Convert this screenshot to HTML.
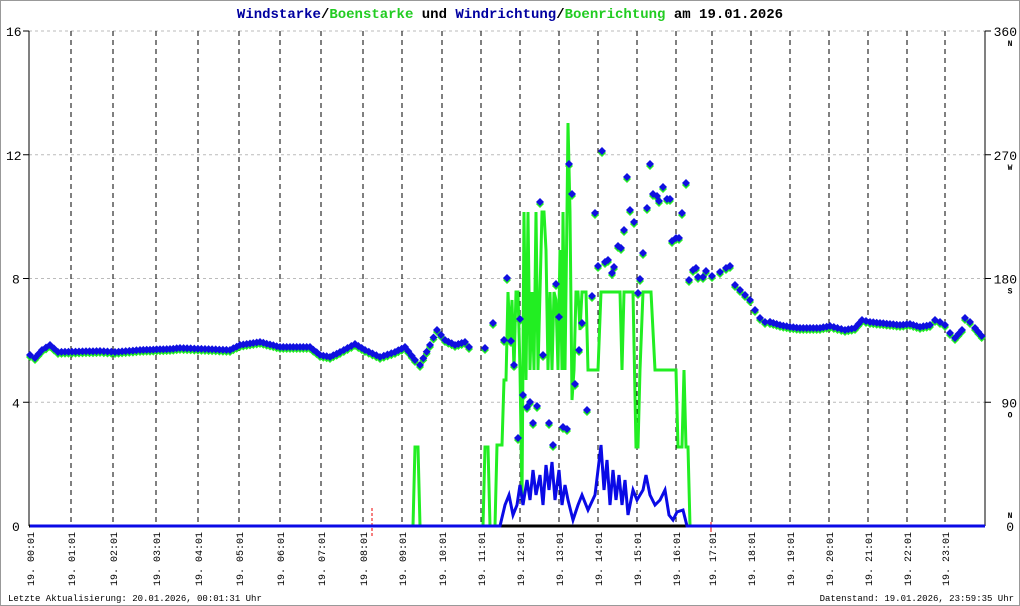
<!DOCTYPE html>
<html><head><meta charset="utf-8"><style>
html,body{margin:0;padding:0;background:#fff}
svg{display:block}
text{font-family:"Liberation Mono","DejaVu Sans Mono",monospace}
</style></head><body>
<svg id="s" width="1020" height="606" viewBox="0 0 1020 606" xmlns="http://www.w3.org/2000/svg">
<rect x="0.5" y="0.5" width="1019" height="605" fill="#fff" stroke="#999"/>
<text x="510" y="18" text-anchor="middle" font-size="14" font-weight="bold"><tspan fill="#0000a0">Windstarke</tspan><tspan fill="#000">/</tspan><tspan fill="#22cc22">Boenstarke</tspan><tspan fill="#000"> und </tspan><tspan fill="#0000a0">Windrichtung</tspan><tspan fill="#000">/</tspan><tspan fill="#22cc22">Boenrichtung</tspan><tspan fill="#000"> am 19.01.2026</tspan></text>
<g id="g"></g>
<text x="8" y="601" font-size="9">Letzte Aktualisierung: 20.01.2026, 00:01:31 Uhr</text>
<text x="1014" y="601" font-size="9" text-anchor="end">Datenstand: 19.01.2026, 23:59:35 Uhr</text>
</svg>
<script>
var g=document.getElementById('g'),h='';
var L=29,R=985,T=31,B=526;
function Y(v){return B-(B-T)*v/16;}
[4,8,12,16].forEach(function(v){var y=Y(v);h+='<line x1="'+L+'" x2="'+R+'" y1="'+y+'" y2="'+y+'" stroke="#bbb" stroke-dasharray="3,3"/>';
h+='<line x1="'+(L-6)+'" x2="'+L+'" y1="'+y+'" y2="'+y+'" stroke="#000"/><line x1="'+R+'" x2="'+(R+6)+'" y1="'+y+'" y2="'+y+'" stroke="#000"/>';});
var xs=[30,71,113,156,198,239,280,321,363,402,442,481,520,559,598,637,676,712,751,790,829,868,907,945];
xs.forEach(function(x,i){if(i>0)h+='<line x1="'+x+'" x2="'+x+'" y1="'+T+'" y2="'+B+'" stroke="#000" stroke-dasharray="5,4"/>';
var hh=(i<10?'0':'')+i;h+='<text transform="translate('+(x+4)+',586) rotate(-90)" font-size="10">19. '+hh+':01</text>';});
h+='<line x1="'+L+'" x2="'+L+'" y1="'+T+'" y2="'+B+'" stroke="#000"/><line x1="'+R+'" x2="'+R+'" y1="'+T+'" y2="'+B+'" stroke="#000"/>';
[0,4,8,12,16].forEach(function(v){h+='<text x="'+(v>=10?6:12)+'" y="'+(Y(v)+5)+'" font-size="13" font-family="Liberation Sans">'+v+'</text>';});
[[0,'0','N'],[4,'90','O'],[8,'180','S'],[12,'270','W'],[16,'360','N']].forEach(function(a){var y=Y(a[0]);
h+='<text x="'+(a[1]=='0'?1014:1017)+'" y="'+(y+5)+'" font-size="13" font-family="Liberation Sans" text-anchor="end">'+a[1]+'</text>';
h+='<text x="1010" y="'+(a[0]==0?y-8:y+15)+'" font-size="8" font-weight="bold" text-anchor="middle">'+a[2]+'</text>';});
h+='<line x1="'+L+'" x2="'+R+'" y1="'+B+'" y2="'+B+'" stroke="#000" stroke-width="3"/>';
h+='<line x1="372" x2="372" y1="508" y2="536" stroke="#e00" stroke-dasharray="3,2"/><line x1="711" x2="711" y1="522" y2="532" stroke="#e00"/>';
var gust=[[30,526],[413,526],[415,447],[418,447],[420,526],[483,526],[485,447],[488,447],[490,526],[495,526],[497,445],[502,445],[504,380],[506,380],[508,292],[510,340],[512,300],[514,370],[516,292],[518,292],[520,370],[522,500],[524,212],[526,380],[528,212],[530,370],[532,292],[534,370],[536,212],[538,370],[540,292],[542,212],[544,212],[546,250],[548,370],[550,292],[552,370],[554,292],[556,300],[558,370],[560,250],[562,370],[563,212],[565,370],[567,212],[568,123],[570,212],[572,400],[574,370],[576,292],[578,292],[580,330],[582,292],[586,292],[588,370],[598,370],[601,292],[620,292],[622,370],[624,292],[633,292],[636,447],[638,447],[640,370],[643,292],[651,292],[655,370],[676,370],[678,447],[682,447],[684,370],[686,447],[688,447],[690,526],[985,526]];
h+='<polyline fill="none" stroke="#22ee22" stroke-width="3" points="'+gust.join(' ')+'"/>';
var w=[[30,526],[500,526],[505,505],[509,495],[513,515],[517,505],[520,485],[523,505],[527,480],[530,500],[533,470],[536,495],[540,475],[543,505],[546,465],[549,490],[552,462],[555,500],[559,470],[562,505],[565,485],[568,500],[573,520],[578,505],[582,495],[588,510],[595,495],[598,470],[601,445],[604,490],[607,460],[610,505],[613,470],[616,500],[619,475],[622,505],[625,480],[628,515],[633,490],[637,500],[643,490],[646,475],[650,495],[655,505],[660,500],[665,490],[669,515],[673,520],[677,512],[683,510],[687,526],[985,526]];
h+='<polyline fill="none" stroke="#0a0ae6" stroke-width="3" points="'+w.join(' ')+'"/>';
var path=[[30,355],[35,358],[42,350],[50,345],[58,352],[100,351],[115,352],[140,350],[170,349],[180,348],[230,350],[240,345],[260,342],[280,347],[310,347],[320,355],[330,357],[340,352],[355,344],[365,350],[380,357],[395,352],[405,347],[415,360],[420,365],[430,345],[437,330],[445,340],[455,345],[465,342],[473,352]];
var pts=[];
for(var i=0;i<path.length-1;i++){var a=path[i],b=path[i+1],n=Math.max(1,Math.round((b[0]-a[0])/3.5));for(var k=0;k<n;k++)pts.push([a[0]+(b[0]-a[0])*k/n,a[1]+(b[1]-a[1])*k/n]);}
var sc=[[485,348],[493,323],[504,340],[507,278],[511,341],[514,365],[520,319],[523,395],[527,407],[530,402],[533,423],[518,438],[537,406],[540,202],[543,355],[549,423],[553,445],[556,284],[559,317],[563,427],[567,429],[569,164],[572,194],[575,384],[579,350],[582,323],[587,410],[592,296],[595,213],[598,266],[602,151],[605,262],[608,260],[612,273],[614,267],[618,246],[621,248],[624,230],[627,177],[630,210],[634,222],[638,293],[640,279],[643,253],[647,208],[650,164],[653,194],[657,196],[659,201],[663,187],[667,199],[670,199],[672,241],[676,238],[679,238],[682,213],[686,183],[689,280],[693,270],[696,268],[698,277],[703,277],[706,271],[712,276],[720,272],[726,268],[730,266],[735,285],[740,290],[745,295],[750,300],[755,310],[760,318],[765,322],[770,322]];
pts=pts.concat(sc);
var p2=[[770,322],[780,325],[790,327],[800,328],[820,328],[830,326],[845,330],[855,328],[862,320],[870,322],[880,323],[900,325],[910,324],[920,327],[930,325],[935,320],[940,322],[945,325],[950,333],[955,338],[962,330],[965,318],[970,322],[975,328],[985,340]];
for(var i=0;i<p2.length-1;i++){var a=p2[i],b=p2[i+1],n=Math.max(1,Math.round((b[0]-a[0])/3.5));for(var k=0;k<n;k++)pts.push([a[0]+(b[0]-a[0])*k/n,a[1]+(b[1]-a[1])*k/n]);}
function dia(x,y,c){x=Math.round(x*10)/10;y=Math.round(y*10)/10;return '<path d="M'+x+' '+(y-4)+'L'+(x+4)+' '+y+'L'+x+' '+(y+4)+'L'+(x-4)+' '+y+'Z" fill="'+c+'"/>';}
pts.forEach(function(p){h+=dia(p[0],p[1]+2,'#22ee22');});
pts.forEach(function(p){h+=dia(p[0],p[1],'#1010e0');});
g.innerHTML=h;
</script>
</body></html>
